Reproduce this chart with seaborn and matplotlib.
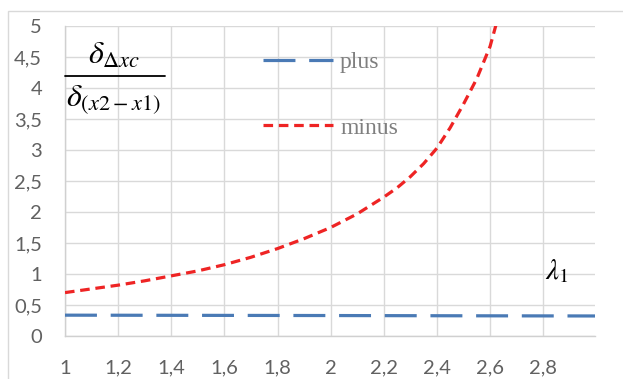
import matplotlib
matplotlib.use("Agg")
import matplotlib.pyplot as plt
from matplotlib.lines import Line2D
from matplotlib.patches import Rectangle
import seaborn as sns
import pandas as pd

# Ratio of errors versus lambda_1
x_plus = [1.0, 1.5, 2.0, 2.5, 3.0]
y_plus = [0.336, 0.333, 0.330, 0.326, 0.323]

x_minus = [1.0, 1.1, 1.2, 1.3, 1.4, 1.5, 1.6, 1.7, 1.8, 1.9, 2.0,
           2.1, 2.2, 2.25, 2.3, 2.35, 2.4, 2.45, 2.5, 2.55, 2.6, 2.65]
y_minus = [0.70, 0.76, 0.82, 0.89, 0.97, 1.05, 1.15, 1.27, 1.41, 1.57, 1.75,
           1.97, 2.24, 2.39, 2.57, 2.78, 3.03, 3.36, 3.74, 4.15, 4.67, 5.45]

x_ticks = [1.0, 1.2, 1.4, 1.6, 1.8, 2.0, 2.2, 2.4, 2.6, 2.8]
y_ticks = [0, 0.5, 1, 1.5, 2, 2.5, 3, 3.5, 4, 4.5, 5]

series_labels = ["plus", "minus"]
blue = "#4a7ab5"
red = "#ee2424"

df_plus = pd.DataFrame({"x": x_plus, "y": y_plus})
df_minus = pd.DataFrame({"x": x_minus, "y": y_minus})

sns.set_theme(style="white")
plt.rcParams["mathtext.fontset"] = "stix"

fig = plt.figure(figsize=(6.23, 3.79), dpi=100)
ax = fig.add_axes([65 / 623, 1 - 336 / 379, 530 / 623, 310 / 379])

# outer chart-area frame
fig.patches.append(Rectangle((8 / 623, -0.1), 1.2, 1 - 11 / 379 + 0.1,
                             transform=fig.transFigure, fill=False,
                             edgecolor="#d9d9d9", linewidth=1.0, zorder=0))

sns.lineplot(data=df_plus, x="x", y="y", ax=ax, color=blue, linewidth=2.3,
             dashes=False, zorder=3)
sns.lineplot(data=df_minus, x="x", y="y", ax=ax, color=red, linewidth=2.3,
             dashes=False, zorder=3)
ax.lines[0].set_dashes([10, 4.3])
ax.lines[1].set_dashes([3, 1.8])

ax.set_xlim(1.0, 2.995)
ax.set_ylim(0, 5)
ax.set_xticks(x_ticks)
ax.set_yticks(y_ticks)
ax.set_xticklabels([f"{t:g}".replace(".", ",") for t in x_ticks])
ax.set_yticklabels([f"{t:g}".replace(".", ",") for t in y_ticks])
ax.set_xlabel("")
ax.set_ylabel("")

ax.grid(True, color="#d9d9d9", linewidth=1.0)
ax.set_axisbelow(True)
for side in ["top", "right"]:
    ax.spines[side].set_visible(False)
for side in ["left", "bottom"]:
    ax.spines[side].set_color("#d0d0d0")
    ax.spines[side].set_linewidth(1.0)

ax.tick_params(axis="both", length=0, labelsize=14.5, labelcolor="#616161")
ax.tick_params(axis="y", pad=16.5)
ax.tick_params(axis="x", pad=17)
for lab in ax.get_xticklabels() + ax.get_yticklabels():
    lab.set_fontfamily("Lato")

# legend
handles = [Line2D([], [], color=blue, linewidth=2.3, dashes=[10, 4.3]),
           Line2D([], [], color=red, linewidth=2.3, dashes=[3, 1.8])]
leg = ax.legend(handles, series_labels, loc="upper left",
                bbox_to_anchor=(0.334, 0.985), frameon=False,
                prop={"family": "Liberation Serif", "size": 17},
                handlelength=2.95, handletextpad=0.3, labelspacing=1.85)
for t in leg.get_texts():
    t.set_color("#7f7f7f")

# y-axis quantity as a fraction
ax.text(0.092, 0.906, r"$\delta_{\Delta xc}$", transform=ax.transAxes,
        ha="center", va="center", fontsize=23, color="black")
ax.plot([0.0, 0.189], [0.839, 0.839], transform=ax.transAxes,
        color="black", linewidth=1.3, clip_on=False, zorder=4)
ax.text(0.092, 0.762, r"$\delta_{(x2-x1)}$", transform=ax.transAxes,
        ha="center", va="center", fontsize=23, color="black")

# x-axis quantity
ax.text(2.852, 1.05, r"$\lambda_1$", ha="center", va="center",
        fontsize=21, color="black")

fig.savefig("out.png", dpi=100)
